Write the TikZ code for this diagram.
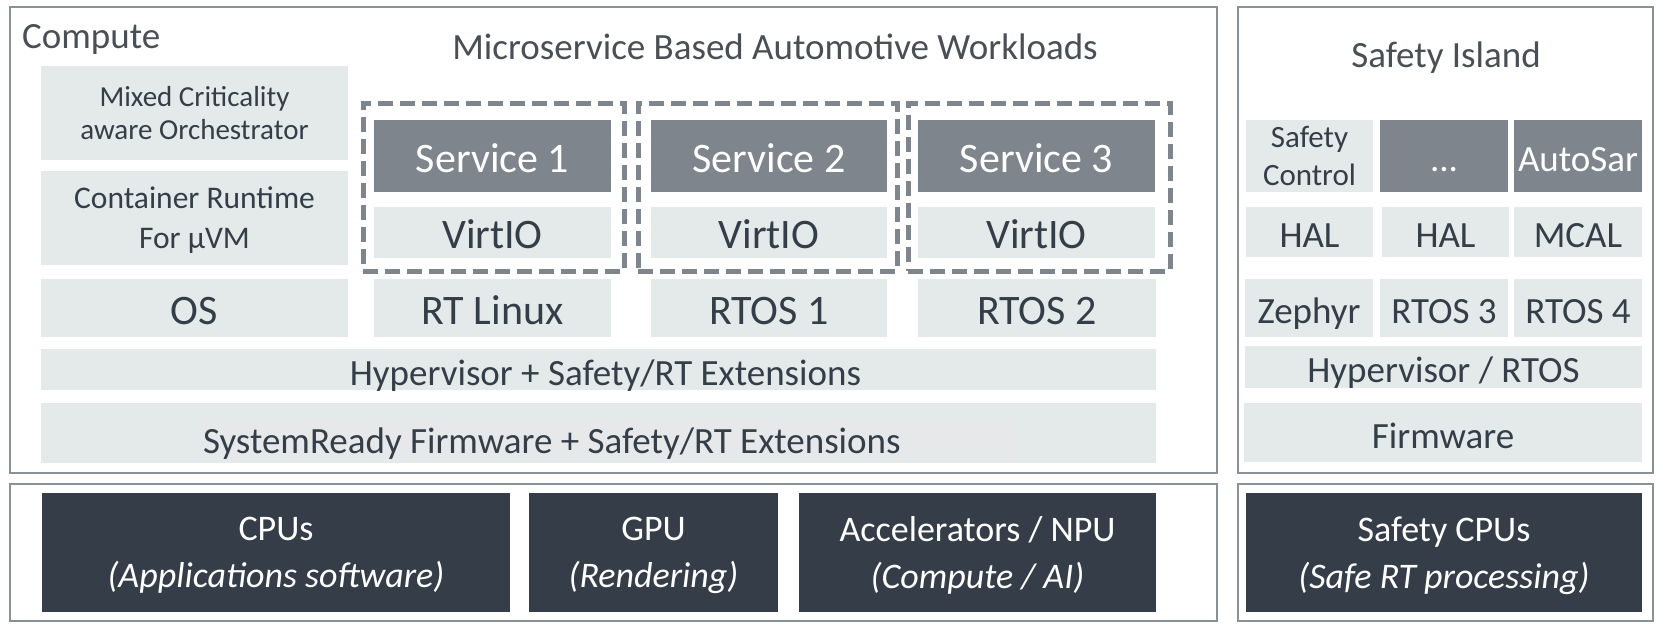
\documentclass[tikz,border=0pt]{standalone}
\usepackage{fontspec}
\setmainfont{Carlito}
\definecolor{lite}{HTML}{E4EAEA}
\definecolor{liteb}{HTML}{E6E8EA}
\definecolor{svc}{HTML}{7E858D}
\definecolor{hw}{HTML}{353E48}
\definecolor{ink}{HTML}{333E48}
\definecolor{frame}{HTML}{8A9196}
\definecolor{titleink}{HTML}{4A4F55}
\tikzset{
  cell/.style={rectangle, inner sep=0pt, outer sep=0pt, anchor=north west, align=center},
  litecell/.style={cell, fill=lite, text=ink},
  svccell/.style={cell, fill=svc, text=white},
  hwcell/.style={cell, fill=hw, text=white},
  frm/.style={cell, draw=frame, line width=2.5pt},
  grp/.style={cell, draw=svc, line width=5pt, dash pattern=on 15pt off 7pt},
  big/.style={font=\fontsize{42}{48}\selectfont, text height=38pt, text depth=6pt},
  mid/.style={font=\fontsize{37}{44}\selectfont, text height=36pt, text depth=4.5pt},
  hwtxt/.style={font=\fontsize{36}{47}\selectfont, text depth=0pt},
}
\begin{document}
\begin{tikzpicture}[x=1pt,y=-1pt]
\useasboundingbox (0,0) rectangle (1665,630);
\fill[white] (0,0) rectangle (1665,630);

% outer frames
\node[frm, minimum width=1207pt, minimum height=466pt] (compute) at (10,7) {};
\node[frm, minimum width=415pt, minimum height=466pt] (island) at (1238,7) {};
\node[frm, minimum width=1207pt, minimum height=137pt] (hwmain) at (10,484) {};
\node[frm, minimum width=415pt, minimum height=137pt] (hwsafe) at (1238,484) {};

% titles
\node[anchor=west, text=titleink, font=\fontsize{37}{42}\selectfont, inner sep=0pt] (tcompute) at (22,39) {Compute};
\node[text=titleink, font=\fontsize{37}{42}\selectfont, inner sep=0pt] (tworkloads) at (775,47) {Microservice Based Automotive Workloads};
\node[text=titleink, font=\fontsize{37}{42}\selectfont, inner sep=0pt] (tisland) at (1446,58) {Safety Island};

% compute stack, left column
\node[litecell, minimum width=307pt, minimum height=94pt, font=\fontsize{29}{33}\selectfont] (orch) at (41,66) {Mixed Criticality\\aware Orchestrator};
\node[litecell, minimum width=307pt, minimum height=94pt, font=\fontsize{31.5}{40}\selectfont, text depth=0pt] (crt) at (41,171) {Container Runtime\\For µVM};
\node[litecell, big, minimum width=307pt, minimum height=58pt] (os) at (41,279) {OS};

% services
\node[svccell, big, minimum width=237pt, minimum height=72pt] (s1) at (374,120) {Service 1};
\node[litecell, big, minimum width=237pt, minimum height=51pt] (v1) at (374,207) {VirtIO};
\node[litecell, big, minimum width=237pt, minimum height=58pt] (rtl) at (374,279) {RT Linux};
\node[svccell, big, minimum width=236pt, minimum height=72pt] (s2) at (651,120) {Service 2};
\node[litecell, big, minimum width=236pt, minimum height=51pt] (v2) at (651,207) {VirtIO};
\node[litecell, big, minimum width=236pt, minimum height=58pt] (rtos1) at (651,279) {RTOS 1};
\node[svccell, big, minimum width=237pt, minimum height=72pt] (s3) at (918,120) {Service 3};
\node[litecell, big, minimum width=237pt, minimum height=51pt] (v3) at (918,207) {VirtIO};
\node[litecell, big, minimum width=238pt, minimum height=58pt] (rtos2) at (918,279) {RTOS 2};

% service groups
\node[grp, minimum width=261pt, minimum height=168pt] (g1) at (363,103) {};
\node[grp, minimum width=259pt, minimum height=168pt] (g2) at (638,103) {};
\node[grp, minimum width=262pt, minimum height=168pt] (g3) at (908,103) {};

% shared layers
\node[litecell, mid, minimum width=1115pt, minimum height=40pt] (hyp) at (41,349) {\hspace*{14pt}Hypervisor + Safety/RT Extensions};
\node[litecell, minimum width=1115pt, minimum height=60pt] (fwbg) at (41,403) {};
\node[cell, fill=liteb, text=ink, font=\fontsize{37}{44}\selectfont, text height=34pt, text depth=5pt,
      minimum height=42pt] (fw) at (203,418) {\makebox[813pt][l]{SystemReady Firmware + Safety/RT Extensions}};

% safety island stack
\node[litecell, minimum width=127pt, minimum height=72pt, font=\fontsize{31}{38}\selectfont] (sctl) at (1246,120) {Safety\\Control};
\node[svccell, mid, minimum width=128pt, minimum height=72pt] (dots) at (1380,120) {...};
\node[svccell, mid, minimum width=128pt, minimum height=72pt] (autosar) at (1514,120) {AutoSar};
\node[litecell, mid, minimum width=127pt, minimum height=50pt] (hal1) at (1246,207) {HAL};
\node[litecell, mid, minimum width=127pt, minimum height=50pt] (hal2) at (1382,207) {HAL};
\node[litecell, mid, minimum width=128pt, minimum height=50pt] (mcal) at (1514,207) {MCAL};
\node[litecell, mid, minimum width=128pt, minimum height=58pt] (zephyr) at (1245,279) {Zephyr};
\node[litecell, mid, minimum width=128pt, minimum height=58pt] (rtos3) at (1380,279) {RTOS 3};
\node[litecell, mid, minimum width=128pt, minimum height=58pt] (rtos4) at (1514,279) {RTOS 4};
\node[litecell, mid, minimum width=397pt, minimum height=42pt] (hyprtos) at (1245,346) {Hypervisor / RTOS};
\node[litecell, mid, minimum width=398pt, minimum height=59pt] (sfw) at (1244,403) {Firmware};

% hardware
\node[hwcell, hwtxt, minimum width=468pt, minimum height=119pt] (cpus) at (42,493) {CPUs\\\itshape (Applications software)};
\node[hwcell, hwtxt, minimum width=249pt, minimum height=119pt] (gpu) at (529,493) {GPU\\\itshape (Rendering)};
\node[hwcell, hwtxt, minimum width=357pt, minimum height=119pt] (npu) at (799,493) {Accelerators / NPU\\\itshape (Compute / AI)};
\node[hwcell, hwtxt, minimum width=396pt, minimum height=119pt] (scpus) at (1246,493) {Safety CPUs\\\itshape (Safe RT processing)};
\end{tikzpicture}
\end{document}
